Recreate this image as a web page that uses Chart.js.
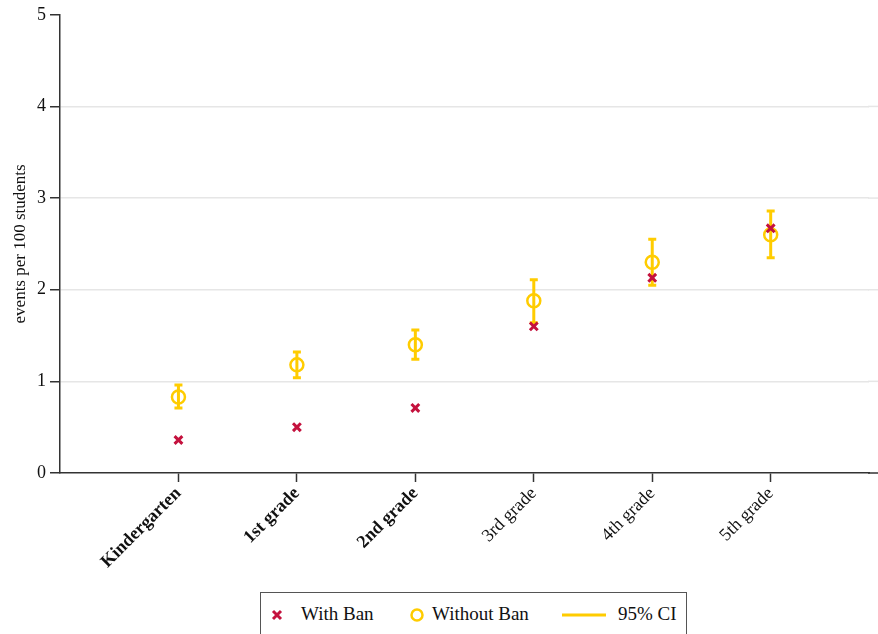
<!DOCTYPE html>
<html>
<head>
<meta charset="utf-8">
<script src="https://cdn.jsdelivr.net/npm/chart.js@4.4.1/dist/chart.umd.min.js"></script>
<style>
  html, body { margin: 0; padding: 0; background: #fff; }
  #wrap { position: relative; width: 878px; height: 634px; overflow: hidden; }
  #legend {
    position: absolute; left: 260px; top: 592px; width: 427px; height: 50px;
    border: 1.5px solid #555; box-sizing: border-box; background: #fff;
    font-family: "Liberation Serif", "Times New Roman", serif; font-size: 19px; color: #111;
  }
  #legend .item { position: absolute; top: 10px; line-height: 22px; white-space: nowrap; }
  #legend svg { position: absolute; }
</style>
</head>
<body>
<div id="wrap">
  <canvas id="chart" width="878" height="634"></canvas>
  <div id="legend">
    <svg style="left:9px;top:15px" width="14" height="14"><path d="M3 3 L11 11 M11 3 L3 11" stroke="#C4123E" stroke-width="3"/></svg>
    <span class="item" style="left:40px">With Ban</span>
    <svg style="left:148px;top:14px" width="16" height="16"><circle cx="8" cy="8" r="5.5" fill="none" stroke="#FFCC00" stroke-width="2.5"/></svg>
    <span class="item" style="left:171px">Without Ban</span>
    <svg style="left:301px;top:19px" width="44" height="6"><line x1="0" y1="3" x2="44" y2="3" stroke="#FFCC00" stroke-width="3"/></svg>
    <span class="item" style="left:357px">95% CI</span>
  </div>
</div>
<script>
// Grade levels along the x axis
const grades = ['Kindergarten', '1st grade', '2nd grade', '3rd grade', '4th grade', '5th grade'];
// Grades whose tick labels are set in bold
const boldGradeCount = 3;

// Events per 100 students
const withBan = [0.36, 0.50, 0.71, 1.60, 2.13, 2.67];
const withoutBan = [0.83, 1.18, 1.40, 1.88, 2.30, 2.60];
// 95% confidence interval for the "Without Ban" estimate
const ciLower = [0.71, 1.04, 1.24, 1.64, 2.05, 2.35];
const ciUpper = [0.96, 1.32, 1.56, 2.11, 2.55, 2.86];

const yTicks = [0, 1, 2, 3, 4, 5];

const RED = '#C4123E';
const GOLD = '#FFCC00';
const AXIS = '#333';
const GRID = '#E6E6E6';
const FONT = '"Liberation Serif", "Times New Roman", serif';

// Vertical CI bars with caps, drawn beneath the markers
const ciBars = {
  id: 'ciBars',
  beforeDatasetsDraw(chart) {
    const { ctx, scales: { x, y } } = chart;
    ctx.save();
    ctx.strokeStyle = GOLD;
    ctx.lineWidth = 3;
    ctx.lineCap = 'butt';
    const cap = 4;
    grades.forEach((_, i) => {
      const px = x.getPixelForValue(i + 1);
      const top = y.getPixelForValue(ciUpper[i]);
      const bot = y.getPixelForValue(ciLower[i]);
      ctx.beginPath();
      ctx.moveTo(px, top); ctx.lineTo(px, bot);
      ctx.moveTo(px - cap, top); ctx.lineTo(px + cap, top);
      ctx.moveTo(px - cap, bot); ctx.lineTo(px + cap, bot);
      ctx.stroke();
    });
    ctx.restore();
  }
};

// Carry the baseline and horizontal grid lines on to the canvas edge
const extendLines = {
  id: 'extendLines',
  afterDraw(chart) {
    const { ctx, chartArea, width, scales: { y } } = chart;
    ctx.save();
    ctx.lineWidth = 1.5;
    yTicks.forEach((v) => {
      if (v === yTicks[yTicks.length - 1]) return;
      const py = y.getPixelForValue(v);
      ctx.strokeStyle = v === 0 ? AXIS : GRID;
      ctx.beginPath();
      ctx.moveTo(chartArea.right - 1, py);
      ctx.lineTo(width, py);
      ctx.stroke();
    });
    ctx.restore();
  }
};

new Chart(document.getElementById('chart'), {
  type: 'scatter',
  data: {
    datasets: [
      {
        label: 'With Ban',
        data: withBan.map((v, i) => ({ x: i + 1, y: v })),
        pointStyle: 'crossRot',
        pointRadius: 5.5,
        borderColor: RED,
        backgroundColor: RED,
        pointBorderWidth: 3
      },
      {
        label: 'Without Ban',
        data: withoutBan.map((v, i) => ({ x: i + 1, y: v })),
        pointStyle: 'circle',
        pointRadius: 6.5,
        borderColor: GOLD,
        backgroundColor: 'rgba(0,0,0,0)',
        pointBorderWidth: 2.5
      }
    ]
  },
  options: {
    responsive: false,
    animation: false,
    events: [],
    layout: { padding: { top: 14, right: 0, left: 0, bottom: 0 } },
    plugins: { legend: { display: false }, tooltip: { enabled: false } },
    scales: {
      x: {
        type: 'linear',
        min: 0,
        max: 6.83,
        afterBuildTicks(scale) {
          scale.ticks = grades.map((_, i) => ({ value: i + 1 }));
        },
        afterFit(scale) {
          scale.height = 161;
          scale.paddingLeft = 0;
          scale.paddingRight = 0;
        },
        border: { color: AXIS, width: 1.5 },
        grid: { drawOnChartArea: false, drawTicks: true, tickLength: 9, tickColor: AXIS, tickWidth: 1.5 },
        ticks: {
          autoSkip: false,
          minRotation: 45,
          maxRotation: 45,
          padding: 1,
          color: '#111',
          font: (ctx) => ({ family: FONT, size: 18, weight: ctx.index < boldGradeCount ? 'bold' : 'normal' }),
          callback: (value) => grades[value - 1]
        }
      },
      y: {
        min: 0,
        max: 5,
        afterBuildTicks(scale) {
          scale.ticks = yTicks.map((v) => ({ value: v }));
        },
        afterFit(scale) { scale.width = 60; },
        border: { color: AXIS, width: 1.5 },
        grid: {
          color: (ctx) => (ctx.tick && (ctx.tick.value === 0 || ctx.tick.value === 5)) ? 'rgba(0,0,0,0)' : GRID,
          lineWidth: 1.5,
          tickLength: 10,
          tickColor: AXIS,
          tickWidth: 1.5
        },
        ticks: {
          padding: 4,
          color: '#111',
          font: { family: FONT, size: 18 }
        },
        title: {
          display: true,
          text: 'events per 100 students',
          color: '#111',
          font: { family: FONT, size: 17 },
          padding: { top: 10, bottom: 0 }
        }
      }
    }
  },
  plugins: [ciBars, extendLines]
});
</script>
</body>
</html>
